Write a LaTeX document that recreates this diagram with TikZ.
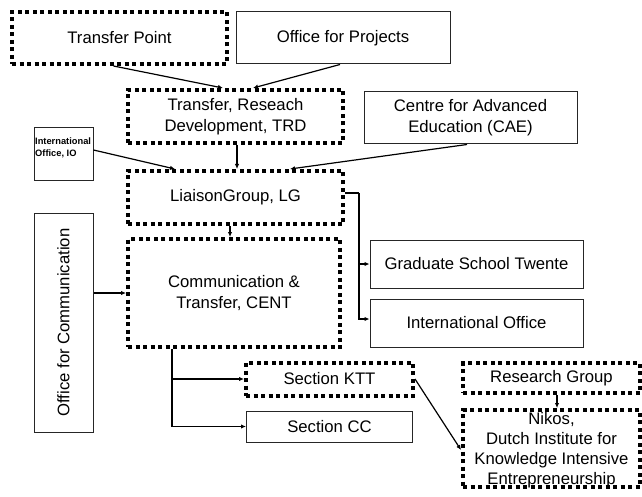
\documentclass[tikz,border=0pt]{standalone}
\usepackage{fontspec}
\usepackage{graphicx}
\setmainfont{Liberation Sans}
\usetikzlibrary{arrows.meta,calc}
\begin{document}
\begin{tikzpicture}[x=1pt,y=-1pt,
  every node/.style={font=\fontsize{16.7}{21}\selectfont, align=center, inner sep=0pt},
  sz/.style 2 args={minimum width=#1pt, minimum height=#2pt},
  solidbox/.style={draw=black!85, line width=1pt, rectangle},
  dotbox/.style={draw=black, line width=4pt, dash pattern=on 4pt off 3.5pt, rectangle},
  conn/.style={line width=1.2pt, -{Latex[length=5pt,width=4.5pt]}},
  plain/.style={line width=1.2pt}]
\useasboundingbox (0,0) rectangle (642,497);

\node[dotbox, sz={215}{52}] (tp) at (119.5,38) {Transfer Point};
\node[solidbox, sz={214}{52}] (op) at (343,38) {Office for Projects};
\node[dotbox, sz={215}{53}] (trd) at (235.5,116.5) {Transfer, Reseach\\Development, TRD};
\node[solidbox, sz={213}{52}] (cae) at (470.5,118) {Centre for Advanced\\Education (CAE)};
\node[solidbox, sz={59}{53},
  label={[name=iostext, anchor=north west, align=left, font=\bfseries\fontsize{9.3}{12}\selectfont, xshift=1.5pt, yshift=-10pt]north west:International\\Office, IO}] (ios) at (63.5,154.5) {};
\node[dotbox, sz={215}{53}] (lg) at (235.5,197.5) {LiaisonGroup, LG};
\node[solidbox, sz={59}{219}] (oc) at (63.5,322.5) {\rotatebox{90}{Office for Communication}};
\node[dotbox, sz={212}{108}] (cent) at (234,293) {Communication \&\\Transfer, CENT};
\node[solidbox, sz={213}{48}] (gst) at (476.5,264) {Graduate School Twente};
\node[solidbox, sz={213}{48}] (io) at (476.5,323) {International Office};
\node[dotbox, sz={167}{33}] (ktt) at (329.5,379) {Section KTT};
\node[solidbox, sz={166}{31}] (cc) at (329.5,426.5) {Section CC};
\node[dotbox, sz={177}{30}] (rg) at (551.5,378) {Research Group};
\node[dotbox, sz={177}{77}, text height=38.5pt, text depth=38.5pt] (nikos) at (551.5,448.5)
  {\raisebox{-6.5pt}{\fontsize{16.7}{20}\selectfont\begin{tabular}{@{}c@{}}Nikos,\\Dutch Institute for\\Knowledge Intensive\\Entrepreneurship\end{tabular}}};

% connectors
\draw[conn] ([xshift=-6pt]tp.south) -- ([xshift=-12.5pt]trd.north);
\draw[conn] ([xshift=-3pt]op.south) -- ([xshift=17.5pt]trd.north);
\draw[conn] ([xshift=1.5pt]trd.south) -- ([xshift=1.5pt]lg.north);
\draw[conn] ([yshift=4.5pt]ios.east) -- ([xshift=-60.5pt]lg.north);
\draw[conn] ([xshift=-3.5pt]cae.south) -- ([xshift=54.5pt]lg.north);
\draw[conn] ([xshift=-5.5pt]lg.south) -- ([xshift=-4pt]cent.north);

\coordinate (lgbus) at (359,193);
\draw[plain] ([yshift=4.5pt]lg.east) -- (lgbus);
\draw[conn] (lgbus) |- ([yshift=4pt]io.west);
\draw[conn] (lgbus |- gst.west) -- (gst.west);

\draw[conn] (oc.east |- cent.west) -- (cent.west);

\coordinate (cbus) at ([xshift=-62pt]cent.south);
\draw[conn] (cbus) |- (cc.west);
\draw[conn] (cbus |- ktt.west) -- (ktt.west);

\draw[conn] (ktt.east) -- ([yshift=-1.5pt]nikos.west);
\draw[conn] ([xshift=5.5pt]rg.south) -- ([xshift=5.5pt]nikos.north);
\end{tikzpicture}
\end{document}
